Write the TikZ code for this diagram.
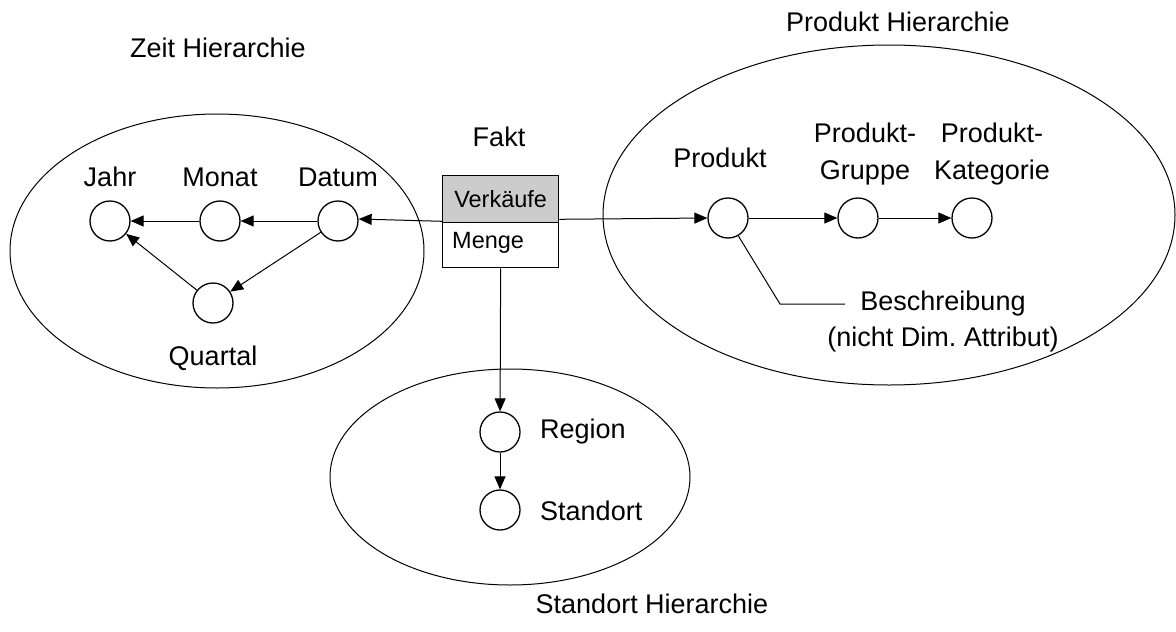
\documentclass[tikz,border=0pt]{standalone}
\usepackage{fontspec}
\setmainfont{Liberation Sans}
\frenchspacing
\usetikzlibrary{arrows.meta,calc}
\begin{document}
\begin{tikzpicture}[x=1pt,y=-1pt,
  lbl/.style={font=\fontsize{27}{34}\selectfont, inner sep=0pt},
  lvl/.style={circle, draw, line width=1.3pt, minimum size=40pt, inner sep=0pt},
  conn/.style={line width=1pt, -{Triangle[length=13pt,width=11pt]}},
  plain/.style={line width=1pt}]
\useasboundingbox (0,0) rectangle (1176,632);

% dimension areas
\draw[plain] (217,251) ellipse [x radius=207, y radius=137];
\draw[plain] (889,215) ellipse [x radius=286, y radius=170];
\draw[plain] (510,477) ellipse [x radius=180, y radius=108];

% area titles
\node[lbl] (tzeit) at (218,48) {Zeit Hierarchie};
\node[lbl] (tprod) at (898,22) {Produkt Hierarchie};
\node[lbl] (tstand) at (652,604) {Standort Hierarchie};

% fact table
\node[lbl] (tfakt) at (499,137) {Fakt};
\node[draw, line width=1.3pt, fill=black!20, minimum width=116pt, minimum height=47pt, inner sep=0pt, anchor=north west,
  font=\fontsize{23.5}{28}\selectfont] (verk) at (442,175) {Verkäufe};
\node[draw, line width=1.3pt, fill=white, minimum width=116pt, minimum height=45pt, inner sep=0pt, anchor=north west] (menge) at (442,222) {};
\node[anchor=west, inner sep=0pt, font=\fontsize{23.5}{28}\selectfont] (tmenge) at (452,243) {Menge};

% time levels
\node[lvl] (jahr) at (110,221) {};
\node[lvl] (monat) at (220,221) {};
\node[lvl] (datum) at (338,221) {};
\node[lvl] (quartal) at (213,303) {};
\node[lbl] at (110,177) {Jahr};
\node[lbl] at (220,177) {Monat};
\node[lbl] at (338,177) {Datum};
\node[lbl] at (213,358) {Quartal};

% product levels
\node[lvl] (produkt) at (728,218) {};
\node[lvl] (gruppe) at (858,218) {};
\node[lvl] (kategorie) at (972,218) {};
\node[lbl] at (720,158) {Produkt};
\node[lbl, align=center, font=\fontsize{27}{37}\selectfont] at (865,154) {Produkt-\\Gruppe};
\node[lbl, align=center, font=\fontsize{27}{37}\selectfont] at (992,154) {Produkt-\\Kategorie};
\node[lbl, align=center, font=\fontsize{27}{36}\selectfont] (besch) at (943,322) {Beschreibung\\(nicht Dim. Attribut)};
\coordinate (bknick) at (780,304);
\coordinate (bend) at (845,304);

% location levels
\node[lvl] (region) at (500,432) {};
\node[lvl] (standort) at (500,510) {};
\node[lbl, anchor=west] at (540,432) {Region};
\node[lbl, anchor=west] at (540,511) {Standort};

% connectors
\draw[conn] (verk.south west) ++(0,-2) -- (datum.east |- 0,219);
\draw[conn] (datum) -- (monat);
\draw[conn] (monat) -- (jahr);
\draw[conn] (datum) -- (quartal);
\draw[conn] (quartal) -- (jahr);
\draw[conn] (verk.south east) ++(0,-4) -- (produkt.west |- 0,218);
\draw[conn] (produkt) -- (gruppe);
\draw[conn] (gruppe) -- (kategorie);
\draw[plain] (produkt.-60) -- (bknick) -- (bend);
\draw[conn] (menge.south) -- (region);
\draw[conn] (region) -- (standort);
\end{tikzpicture}
\end{document}
